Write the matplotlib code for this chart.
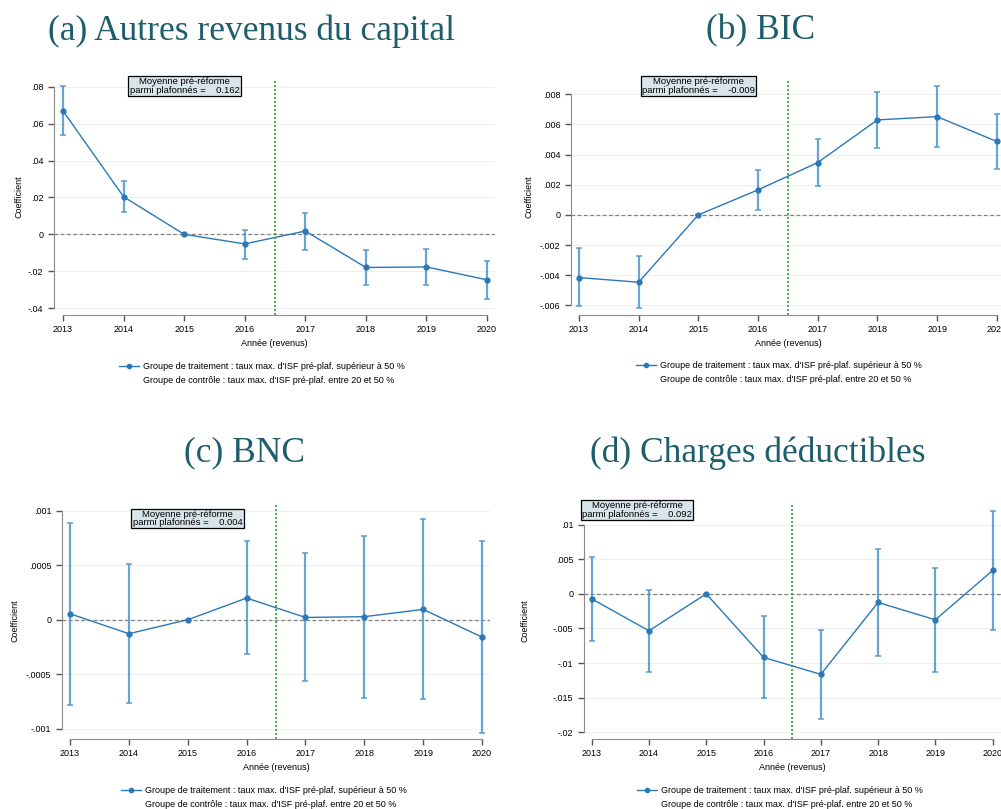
import numpy as np
import matplotlib.pyplot as plt
from matplotlib.lines import Line2D

W, H = 1001, 809
plt.rcParams['font.family'] = ['Liberation Sans', 'DejaVu Sans']

years = [2013, 2014, 2015, 2016, 2017, 2018, 2019, 2020]

# (a) Autres revenus du capital
coef_a = [0.0670, 0.0204, 0.0, -0.0052, 0.0018, -0.0180, -0.0177, -0.0247]
hi_a = [0.0803, 0.0292, 0.0, 0.0025, 0.0117, -0.0087, -0.0078, -0.0144]
lo_a = [0.0538, 0.0119, 0.0, -0.0134, -0.0083, -0.0276, -0.0276, -0.0350]
yt_a = [-0.04, -0.02, 0, 0.02, 0.04, 0.06, 0.08]
yl_a = ['-.04', '-.02', '0', '.02', '.04', '.06', '.08']

# (b) BIC
coef_b = [-0.00416, -0.00447, 0.0, 0.00166, 0.00347, 0.00630, 0.00652, 0.00487]
hi_b = [-0.00223, -0.00276, 0.0, 0.00299, 0.00502, 0.00814, 0.00856, 0.00668]
lo_b = [-0.00608, -0.00617, 0.0, 0.00035, 0.00192, 0.00442, 0.00449, 0.00307]
yt_b = [-0.006, -0.004, -0.002, 0, 0.002, 0.004, 0.006, 0.008]
yl_b = ['-.006', '-.004', '-.002', '0', '.002', '.004', '.006', '.008']

# (c) BNC
coef_c = [0.000055, -0.000128, 0.0, 0.000199, 0.000021, 0.000028, 0.000095, -0.000159]
hi_c = [0.00089, 0.00051, 0.0, 0.00072, 0.00061, 0.00077, 0.00092, 0.00072]
lo_c = [-0.00078, -0.00076, 0.0, -0.000315, -0.00056, -0.00072, -0.00073, -0.00104]
yt_c = [-0.001, -0.0005, 0, 0.0005, 0.001]
yl_c = ['-.001', '-.0005', '0', '.0005', '.001']

# (d) Charges déductibles
coef_d = [-0.00072, -0.00534, 0.0, -0.00918, -0.01163, -0.00125, -0.00375, 0.00337]
hi_d = [0.00538, 0.00048, 0.0, -0.00322, -0.00524, 0.00649, 0.0038, 0.01197]
lo_d = [-0.00688, -0.01125, 0.0, -0.0151, -0.01808, -0.00894, -0.01135, -0.00524]
yt_d = [-0.02, -0.015, -0.01, -0.005, 0, 0.005, 0.01]
yl_d = ['-.02', '-.015', '-.01', '-.005', '0', '.005', '.01']

titles = ['(a) Autres revenus du capital', '(b) BIC', '(c) BNC', '(d) Charges déductibles']
means = ['0.162', '-0.009', '0.004', '0.092']
leg1 = "Groupe de traitement : taux max. d'ISF pré-plaf. supérieur à 50 %"
leg2 = "Groupe de contrôle : taux max. d'ISF pré-plaf. entre 20 et 50 %"

blue = '#2a78b8'
ci_col = '#4f95cc'
title_col = '#1e5d6c'
fs = 6.5


def px_axes(fig, left, right, top, bottom):
    return fig.add_axes([left / W, 1 - bottom / H, (right - left) / W, (bottom - top) / H])


def panel(fig, rect, xlim, ylim, coef, lo, hi, yt, yl, title, tpos, mean, bpos, lpos, ylab_x):
    ax = px_axes(fig, *rect)
    ax.set_xlim(*xlim)
    ax.set_ylim(*ylim)
    for y in yt:
        ax.axhline(y, color='#efefef', lw=0.8, zorder=0)
    ax.axhline(0, color='#808080', lw=0.9, ls=(0, (3, 2)), zorder=1)
    ax.axvline(2016.5, color='#2ca02c', lw=1.2, ls=(0, (1.2, 1.2)), zorder=1)
    coef = np.array(coef)
    err = np.vstack([coef - np.array(lo), np.array(hi) - coef])
    ax.errorbar(years, coef, yerr=err, fmt='none', ecolor=ci_col, elinewidth=1.6,
                capsize=2.5, capthick=1.2, alpha=0.85, zorder=2)
    ax.plot(years, coef, color=blue, lw=1, marker='o', ms=3.5, zorder=3)
    ax.set_yticks(yt)
    ax.set_yticklabels(yl)
    ax.set_xticks(years)
    ax.tick_params(labelsize=fs, colors='#555555', labelcolor='black', length=4, width=1)
    for s in ['top', 'right']:
        ax.spines[s].set_visible(False)
    ax.spines['left'].set_bounds(yt[0], yt[-1])
    ax.spines['bottom'].set_bounds(years[0], years[-1])
    ax.spines['left'].set_color('#8a8a8a')
    ax.spines['bottom'].set_color('#8a8a8a')
    ax.set_ylabel('Coefficient', fontsize=fs)
    ax.yaxis.set_label_coords((ylab_x - rect[0]) / (rect[1] - rect[0]), 0.5)
    ax.set_xlabel('Année (revenus)', fontsize=fs, labelpad=3)
    ax.set_facecolor('none')
    fig.text(tpos[0] / W, 1 - tpos[1] / H, title, ha='center', va='center',
             fontsize=25.5, color=title_col, family='Liberation Serif')
    fig.text(bpos[0] / W, 1 - bpos[1] / H, 'Moyenne pré-réforme\nparmi plafonnés =    ' + mean,
             ha='center', va='center', fontsize=6.8, linespacing=0.95,
             bbox=dict(boxstyle='square,pad=0.12', fc='#d7e4e9', ec='black', lw=0.9))
    handles = [Line2D([], [], color=blue, lw=1, marker='o', ms=3),
               Line2D([], [], ls='none')]
    fig.legend(handles, [leg1, leg2], loc='upper left', frameon=False, fontsize=fs,
               bbox_to_anchor=(lpos[0] / W, 1 - lpos[1] / H), handlelength=2.2,
               handletextpad=0.5, labelspacing=0.55, borderpad=0, borderaxespad=0)
    return ax


fig = plt.figure(figsize=(W / 100, H / 100), dpi=100)

panel(fig, (54, 495, 79, 315), (2012.851, 2020.132), (-0.0438, 0.08434),
      coef_a, lo_a, hi_a, yt_a, yl_a, titles[0], (251, 31), means[0], (184.5, 86.3), (119, 362), 24)
panel(fig, (571, 1005, 79, 315), (2012.866, 2020.138), (-0.006644, 0.009015),
      coef_b, lo_b, hi_b, yt_b, yl_b, titles[1], (761, 31), means[1], (698.7, 86), (636, 361), 533)
panel(fig, (62, 490, 503, 739), (2012.864, 2020.136), (-0.001094, 0.001071),
      coef_c, lo_c, hi_c, yt_c, yl_c, titles[2], (245, 453), means[2], (187.5, 518.5), (121, 786), 19)
panel(fig, (584, 1001, 503, 739), (2012.866, 2020.146), (-0.020966, 0.013116),
      coef_d, lo_d, hi_d, yt_d, yl_d, titles[3], (758, 453), means[3], (637, 510), (637, 786), 530)

fig.savefig('out.png', dpi=100)
